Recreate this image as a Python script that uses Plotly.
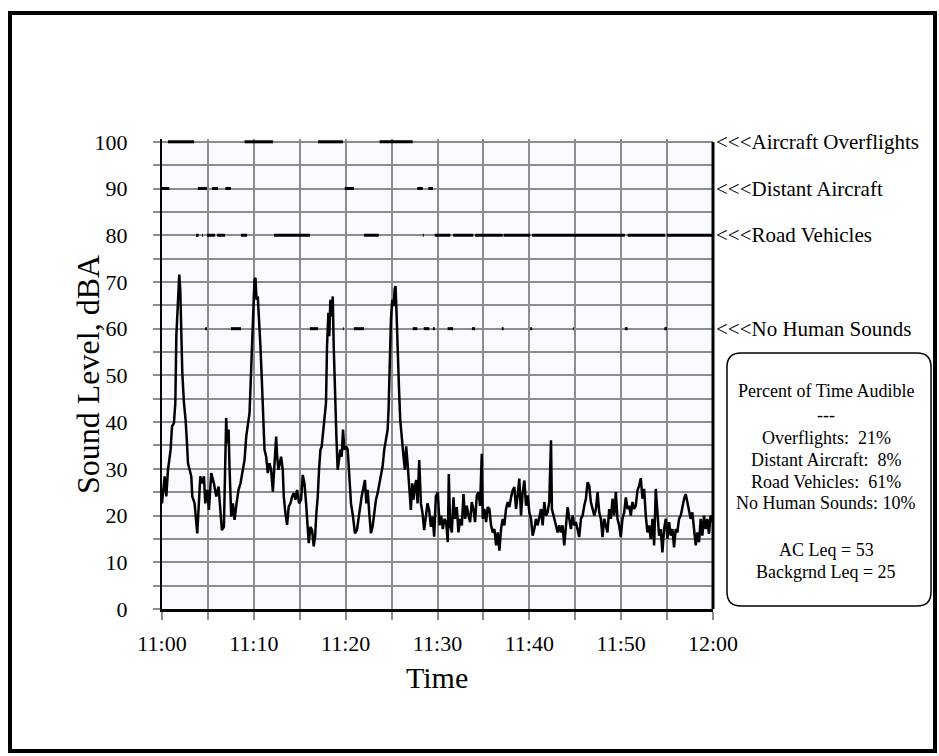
import plotly.graph_objects as go

# ---- data (minutes after 11:00, dBA) ----
t_min = [0.00, 0.29, 0.47, 0.65, 0.94, 1.09, 1.30, 1.45, 1.56, 1.74, 1.88, 1.99, 2.10, 2.21, 2.39, 2.57, 2.72, 2.83, 3.01, 3.19,
         3.30, 3.55, 3.84, 4.02, 4.17, 4.38, 4.57, 4.71, 4.93, 5.11, 5.36, 5.65, 5.91, 6.16, 6.38, 6.52, 6.74, 6.88, 6.99, 7.10,
         7.25, 7.36, 7.54, 7.72, 7.90, 8.12, 8.33, 8.55, 8.80, 8.99, 9.17, 9.35, 9.53, 9.64, 9.78, 9.89, 10.07, 10.18, 10.29, 10.43,
         10.58, 10.72, 10.87, 10.98, 11.16, 11.34, 11.52, 11.70, 11.88, 12.07, 12.25, 12.43, 12.54, 12.68, 12.83, 12.97, 13.15, 13.26, 13.44, 13.62,
         13.80, 13.99, 14.17, 14.35, 14.53, 14.71, 14.93, 15.14, 15.33, 15.51, 15.69, 15.87, 15.98, 16.16, 16.34, 16.52, 16.67, 16.81, 16.96, 17.10,
         17.25, 17.39, 17.54, 17.68, 17.86, 17.97, 18.12, 18.22, 18.33, 18.44, 18.59, 18.70, 18.84, 18.99, 19.13, 19.28, 19.42, 19.57, 19.71, 19.86,
         20.04, 20.22, 20.40, 20.58, 20.80, 21.01, 21.23, 21.41, 21.59, 21.74, 21.96, 22.10, 22.25, 22.39, 22.57, 22.75, 22.93, 23.12, 23.30, 23.48,
         23.66, 23.84, 24.02, 24.20, 24.38, 24.57, 24.67, 24.78, 24.93, 25.07, 25.22, 25.33, 25.43, 25.54, 25.65, 25.80, 25.94, 26.12, 26.30, 26.45,
         26.59, 26.74, 26.92, 27.10, 27.25, 27.39, 27.54, 27.68, 27.83, 28.01, 28.19, 28.37, 28.55, 28.73, 28.91, 29.09, 29.28, 29.46, 29.64, 29.82,
         30.04, 30.22, 30.40, 30.58, 30.76, 30.94, 31.12, 31.23, 31.38, 31.56, 31.74, 31.88, 32.10, 32.28, 32.46, 32.65, 32.83, 33.01, 33.19, 33.37,
         33.55, 33.73, 33.91, 34.09, 34.28, 34.46, 34.64, 34.82, 34.93, 35.11, 35.29, 35.47, 35.65, 35.83, 36.01, 36.20, 36.38, 36.56, 36.74, 36.92,
         37.10, 37.28, 37.46, 37.65, 37.83, 38.01, 38.19, 38.37, 38.55, 38.73, 38.91, 39.09, 39.28, 39.46, 39.64, 39.82, 40.00, 40.18, 40.36, 40.54,
         40.72, 40.91, 41.09, 41.27, 41.45, 41.63, 41.81, 41.99, 42.17, 42.36, 42.46, 42.61, 42.75, 42.90, 43.08, 43.26, 43.44, 43.62, 43.80, 43.99,
         44.17, 44.35, 44.53, 44.71, 44.89, 45.07, 45.25, 45.43, 45.62, 45.80, 45.98, 46.16, 46.34, 46.52, 46.70, 46.88, 47.07, 47.25, 47.43, 47.61,
         47.79, 47.97, 48.15, 48.33, 48.51, 48.70, 48.88, 49.06, 49.24, 49.42, 49.60, 49.78, 49.96, 50.14, 50.33, 50.51, 50.69, 50.87, 51.05, 51.23,
         51.41, 51.59, 51.78, 51.96, 52.14, 52.32, 52.50, 52.68, 52.86, 53.04, 53.22, 53.41, 53.59, 53.77, 53.95, 54.13, 54.31, 54.49, 54.67, 54.86,
         55.04, 55.22, 55.40, 55.58, 55.76, 55.94, 56.12, 56.30, 56.49, 56.67, 56.85, 57.03, 57.21, 57.39, 57.57, 57.75, 57.93, 58.12, 58.30, 58.48,
         58.66, 58.84, 59.02, 59.20, 59.38, 59.56, 59.74, 59.93]
level_dba = [22.6, 28.4, 24.1, 29.8, 34.1, 39.1, 39.8, 44.1, 58.4, 67.6, 71.6, 68.4, 58.4, 50.5, 44.1, 40.5, 35.5, 31.2, 29.8, 28.4,
             24.1, 22.6, 16.2, 24.1, 28.4, 26.9, 28.4, 22.6, 25.5, 21.2, 29.1, 26.9, 24.1, 26.2, 21.2, 16.9, 17.6, 35.5, 40.9, 35.5,
             38.4, 29.8, 19.8, 22.6, 19.1, 22.6, 25.5, 26.9, 29.8, 31.9, 36.9, 39.8, 41.9, 47.6, 54.8, 61.9, 70.5, 70.9, 66.2, 66.9,
             61.9, 56.2, 49.1, 42.6, 34.1, 32.6, 29.1, 31.2, 29.8, 25.1, 32.6, 36.9, 32.6, 29.8, 31.2, 32.6, 29.8, 24.1, 20.5, 18.0,
             21.9, 22.6, 24.1, 24.8, 23.4, 25.5, 22.6, 23.4, 28.7, 26.9, 22.6, 18.4, 14.1, 17.6, 16.9, 13.4, 15.5, 20.5, 24.1, 29.8,
             34.1, 34.8, 37.6, 39.8, 44.1, 56.2, 63.4, 58.4, 66.2, 62.6, 66.9, 56.2, 45.5, 36.9, 29.8, 32.6, 34.1, 32.6, 38.4, 34.1,
             34.8, 34.1, 26.9, 22.6, 19.8, 16.2, 16.9, 19.8, 22.6, 24.1, 26.2, 27.6, 22.6, 25.5, 20.5, 16.2, 17.6, 21.2, 23.4, 24.8,
             26.9, 28.4, 30.5, 34.1, 36.2, 38.4, 42.6, 51.2, 61.9, 66.2, 64.8, 68.4, 69.1, 63.4, 54.8, 47.6, 40.5, 35.5, 32.6, 29.8,
             34.8, 31.2, 26.2, 21.2, 26.9, 23.4, 26.2, 27.6, 22.6, 31.9, 22.6, 20.5, 16.9, 19.8, 22.6, 21.2, 17.6, 19.8, 15.5, 24.1,
             25.0, 17.9, 20.0, 17.1, 19.3, 18.6, 14.3, 28.9, 17.9, 16.4, 23.9, 19.3, 21.8, 16.4, 19.3, 17.9, 24.6, 19.3, 22.1, 20.0,
             18.6, 22.9, 21.4, 18.6, 24.3, 25.0, 22.1, 33.2, 19.3, 21.4, 18.6, 21.8, 21.4, 17.9, 16.4, 17.1, 13.6, 16.4, 12.5, 17.1,
             19.3, 17.9, 21.4, 22.9, 21.8, 23.9, 25.4, 26.1, 21.4, 24.3, 27.9, 20.0, 25.0, 27.5, 22.1, 24.3, 20.7, 19.3, 15.7, 17.1,
             19.3, 17.9, 20.0, 21.4, 17.9, 22.9, 20.0, 20.7, 22.9, 36.1, 21.4, 20.0, 18.6, 17.9, 16.4, 17.9, 16.4, 17.9, 13.6, 17.9,
             21.8, 19.3, 17.1, 20.0, 17.9, 18.6, 17.1, 15.4, 19.3, 20.0, 22.1, 23.6, 27.1, 26.4, 22.9, 21.4, 20.0, 21.4, 25.0, 20.7,
             19.3, 15.4, 19.3, 17.9, 16.4, 21.4, 19.3, 23.6, 20.0, 25.0, 19.3, 17.9, 15.4, 19.3, 20.7, 23.9, 21.4, 22.1, 20.0, 22.9,
             21.4, 22.1, 25.4, 26.4, 28.0, 23.6, 25.7, 20.0, 16.4, 17.9, 15.0, 19.3, 13.6, 25.7, 19.3, 15.7, 17.1, 12.1, 17.1, 19.3,
             15.0, 18.6, 15.7, 17.1, 13.2, 17.1, 16.4, 19.3, 20.0, 22.1, 23.6, 24.6, 22.9, 21.4, 19.3, 20.7, 17.1, 13.6, 16.4, 14.3,
             19.3, 15.7, 20.0, 17.1, 19.3, 16.1, 20.0, 18.6]

# audible-source event periods (minutes after 11:00) and the level each is drawn at
overflight_start = [0.65, 9.0, 17.0, 23.7]
overflight_end = [3.5, 12.1, 19.7, 27.3]
distant_start = [0.0, 3.9, 5.45, 6.9, 19.9, 27.8, 29.0]
distant_end = [0.8, 4.9, 6.1, 7.5, 20.9, 28.4, 29.5]
road_start = [3.7, 4.36, 4.9, 6.0, 8.6, 12.2, 22.0, 28.4, 29.7, 31.7, 34.1, 37.2, 40.3, 50.7, 55.0]
road_end = [4.0, 4.46, 5.77, 6.86, 9.26, 16.1, 23.6, 28.5, 31.4, 33.9, 37.1, 40.1, 50.4, 54.8, 60.0]
nohuman_start = [4.7, 7.5, 16.1, 19.7, 20.9, 27.3, 28.5, 29.5, 31.1, 33.75, 37.0, 40.1, 44.75, 50.4, 54.7]
nohuman_end = [4.9, 8.6, 17.0, 19.8, 22.0, 27.8, 29.1, 29.7, 31.7, 34.1, 37.2, 40.3, 44.85, 50.7, 55.0]

event_names = ["<<<Aircraft Overflights", "<<<Distant Aircraft", "<<<Road Vehicles", "<<<No Human Sounds"]
event_levels = [100, 90, 80, 60]

tick_minutes = [0, 10, 20, 30, 40, 50, 60]
tick_labels = ["11:00", "11:10", "11:20", "11:30", "11:40", "11:50", "12:00"]
y_ticks = [0, 10, 20, 30, 40, 50, 60, 70, 80, 90, 100]

box_lines = ["Percent of Time Audible", "---", "Overflights:  21%", "Distant Aircraft:  8%",
             "Road Vehicles:  61%", "No Human Sounds: 10%", "AC Leq = 53", "Backgrnd Leq = 25"]

# ---- layout geometry (pixels) ----
W, H = 939, 756
PL, PR, PT, PB = 162, 713, 139, 609
FONT = "Liberation Serif, Times New Roman, serif"
GRID = "#8c8c8c"


def px(p):
    return (p - PL) / (PR - PL)


def py(p):
    return (PB - p) / (PB - PT)


fig = go.Figure()

fig.add_trace(go.Scatter(x=t_min, y=level_dba, mode="lines",
                         line=dict(color="black", width=2.5), showlegend=False, hoverinfo="x+y"))

for starts, ends, lvl in [(overflight_start, overflight_end, 100), (distant_start, distant_end, 90),
                          (road_start, road_end, 80), (nohuman_start, nohuman_end, 60)]:
    xs, ys = [], []
    for s, e in zip(starts, ends):
        xs += [s, e, None]
        ys += [lvl, lvl, None]
    fig.add_trace(go.Scatter(x=xs, y=ys, mode="lines", line=dict(color="black", width=3),
                             showlegend=False, hoverinfo="skip"))

fig.update_layout(
    width=W, height=H,
    margin=dict(l=PL, r=W - PR, t=PT, b=H - PB, pad=0),
    paper_bgcolor="white", plot_bgcolor="#F8FAFF",
    font=dict(family=FONT, color="black"),
    showlegend=False,
)
fig.update_xaxes(range=[0, 60], tickvals=tick_minutes, ticktext=tick_labels,
                 tickfont=dict(size=22, family=FONT), ticks="outside", ticklen=8, tickwidth=2,
                 tickcolor=GRID, ticklabelstandoff=5,
                 showgrid=True, gridcolor=GRID, gridwidth=2,
                 minor=dict(dtick=5, ticks="outside", ticklen=8, tickwidth=2, tickcolor=GRID,
                            showgrid=True, gridcolor=GRID, gridwidth=2),
                 showline=True, linecolor="black", linewidth=3, zeroline=False)
fig.update_yaxes(range=[0, 100.6], tickvals=y_ticks,
                 tickfont=dict(size=22, family=FONT), ticks="outside", ticklen=7, tickwidth=2,
                 tickcolor=GRID, ticklabelstandoff=21,
                 showgrid=True, gridcolor=GRID, gridwidth=2,
                 minor=dict(dtick=5, ticks="outside", ticklen=7, tickwidth=2, tickcolor=GRID,
                            showgrid=True, gridcolor=GRID, gridwidth=2),
                 showline=True, linecolor="black", linewidth=2, zeroline=False)

shapes = []
# right plot edge
shapes.append(dict(type="line", xref="paper", yref="paper", x0=1, x1=1, y0=0, y1=py(142),
                   line=dict(color="black", width=3)))
# outer frame
shapes.append(dict(type="rect", xref="paper", yref="paper", x0=px(10), x1=px(935), y0=py(13), y1=py(751),
                   line=dict(color="black", width=4), fillcolor="rgba(0,0,0,0)"))
# rounded info box
bx0, bx1, by0, by1, r = 727, 931, 353, 606, 14
path = (f"M {px(bx0 + r)} {py(by0)} L {px(bx1 - r)} {py(by0)} Q {px(bx1)} {py(by0)} {px(bx1)} {py(by0 + r)} "
        f"L {px(bx1)} {py(by1 - r)} Q {px(bx1)} {py(by1)} {px(bx1 - r)} {py(by1)} "
        f"L {px(bx0 + r)} {py(by1)} Q {px(bx0)} {py(by1)} {px(bx0)} {py(by1 - r)} "
        f"L {px(bx0)} {py(by0 + r)} Q {px(bx0)} {py(by0)} {px(bx0 + r)} {py(by0)} Z")
shapes.append(dict(type="path", xref="paper", yref="paper", path=path,
                   line=dict(color="black", width=1.5), fillcolor="white"))
fig.update_layout(shapes=shapes)

ann = []
for name, lvl in zip(event_names, event_levels):
    ann.append(dict(x=1, xref="paper", xshift=1, y=lvl, yref="y", text=name, showarrow=False,
                    xanchor="left", yanchor="middle", font=dict(size=21, family=FONT)))
box_line_y = [391, 415, 438, 460, 482, 503, 550, 572]
for line_text, ly in zip(box_lines, box_line_y):
    ann.append(dict(x=px(826), y=py(ly), xref="paper", yref="paper", text=line_text,
                    showarrow=False, xanchor="center", yanchor="middle",
                    font=dict(size=18, family=FONT)))
ann.append(dict(x=px(88), y=py(375), xref="paper", yref="paper", text="Sound Level, dBA", textangle=-90,
                showarrow=False, xanchor="center", yanchor="middle", font=dict(size=32, family=FONT)))
ann.append(dict(x=px(437), y=py(677), xref="paper", yref="paper", text="Time",
                showarrow=False, xanchor="center", yanchor="middle", font=dict(size=30, family=FONT)))
fig.update_layout(annotations=ann)

fig.write_html("out.html", config={"displayModeBar": False},
               post_script="document.body.style.margin='0';document.body.style.overflow='hidden';")
